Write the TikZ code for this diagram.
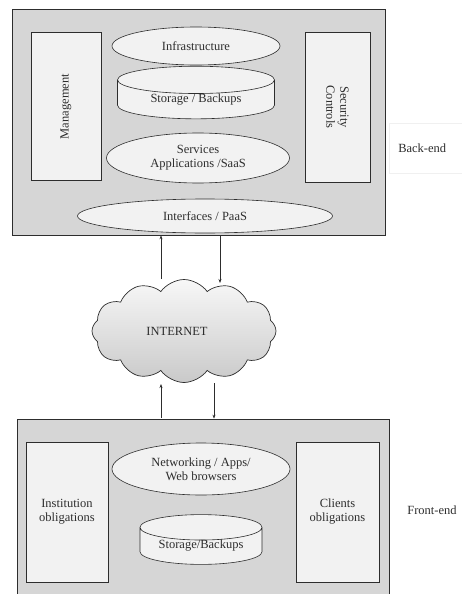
\documentclass[tikz,border=0pt]{standalone}
\usepackage{fontspec}
\setmainfont{Liberation Serif}
\usepackage{tikz}
\usetikzlibrary{shapes.geometric,shapes.symbols,arrows.meta}
\definecolor{tierfill}{RGB}{214,214,214}
\definecolor{boxfill}{RGB}{242,242,242}
\definecolor{inkgray}{RGB}{45,45,45}

\begin{document}
\begin{tikzpicture}[x=1pt, y=-1pt,
        every node/.style={font=\fontsize{12.5}{14}\selectfont, text=inkgray},
        tier/.style={draw=inkgray, line width=0.7pt, fill=tierfill},
        side/.style={draw=inkgray, line width=0.6pt, fill=boxfill,
                     minimum width=#1, minimum height=148pt, align=center},
        layer/.style={ellipse, draw=inkgray, line width=0.6pt, fill=boxfill,
                      inner sep=0pt, align=center},
        store/.style={cylinder, shape border rotate=90, draw=inkgray,
                      line width=0.6pt, fill=boxfill, aspect=0.3,
                      inner sep=0pt, align=center},
        arrow/.style={-{Stealth[length=4pt,width=3pt]}, line width=0.6pt, draw=inkgray},
    ]
        \useasboundingbox (0,0) rectangle (462,594);
        \clip (0,0) rectangle (462,594);

        % Back-end tier
        \node[tier, minimum width=373pt, minimum height=226pt] (backend) at (198.5,122) {};
        \node[side=70pt] (mgmt) at (66,106.5) {};
        \node[rotate=90] at (mgmt.center) {Management};
        \node[side=65pt, minimum height=150pt] (secctl) at (337.5,107) {};
        \node[rotate=-90, align=center] at (secctl.center) {Security\\Controls};
        \node[layer, minimum width=168pt, minimum height=38pt] (infra) at (196,46)
              {Infrastructure};
        \node[store, minimum width=157pt, minimum height=47pt] (storage) at (196,99.5)
              {Storage / Backups};
        \node[layer, minimum width=183pt, minimum height=50pt] (services) at (198,158)
              {Services\\Applications /SaaS};
        \node[layer, minimum width=255pt, minimum height=34pt] (ifaces) at (205,216)
              {Interfaces / PaaS};
        \node[draw=gray!12, fill=white, minimum width=80pt, minimum height=50pt,
              anchor=west] (backlbl) at (389,148) {\hspace*{-14pt}Back-end};

        % Internet
        \node[cloud, cloud puffs=12, cloud puff arc=110, aspect=1.8,
              draw=inkgray, line width=0.7pt, top color=gray!6, bottom color=gray!42,
              minimum width=184pt, minimum height=103pt] (cloud) at (184,331) {};
        \node (inet) at (177,331) {INTERNET};

        % Front-end tier
        \node[tier, minimum width=372pt, minimum height=190pt] (frontend) at (203,514) {};
        \node[side=82pt, minimum height=140pt] (inst) at (67,512)
              {Institution\\obligations};
        \node[side=83pt, minimum height=140pt] (clients) at (337.5,512)
              {Clients\\obligations};
        \node[layer, minimum width=178pt, minimum height=52pt] (netapps) at (201,469)
              {Networking / Apps/\\Web browsers};
        \node[store, minimum width=122pt, minimum height=47pt] (fstore) at (201,546)
              {Storage/Backups};
        \node (frontlbl) at (432,510) {Front-end};

        % Arrows
        \coordinate (upA) at (161,279);
        \coordinate (downA) at (220,283);
        \coordinate (upB) at (161,418);
        \coordinate (downB) at (214,383);
        \draw[arrow] (upA) -- (upA |- backend.south);
        \draw[arrow] (downA |- backend.south) -- (downA);
        \draw[arrow] (upB) -- (upB |- 0,384);
        \draw[arrow] (downB) -- (downB |- frontend.north);
\end{tikzpicture}
\end{document}
